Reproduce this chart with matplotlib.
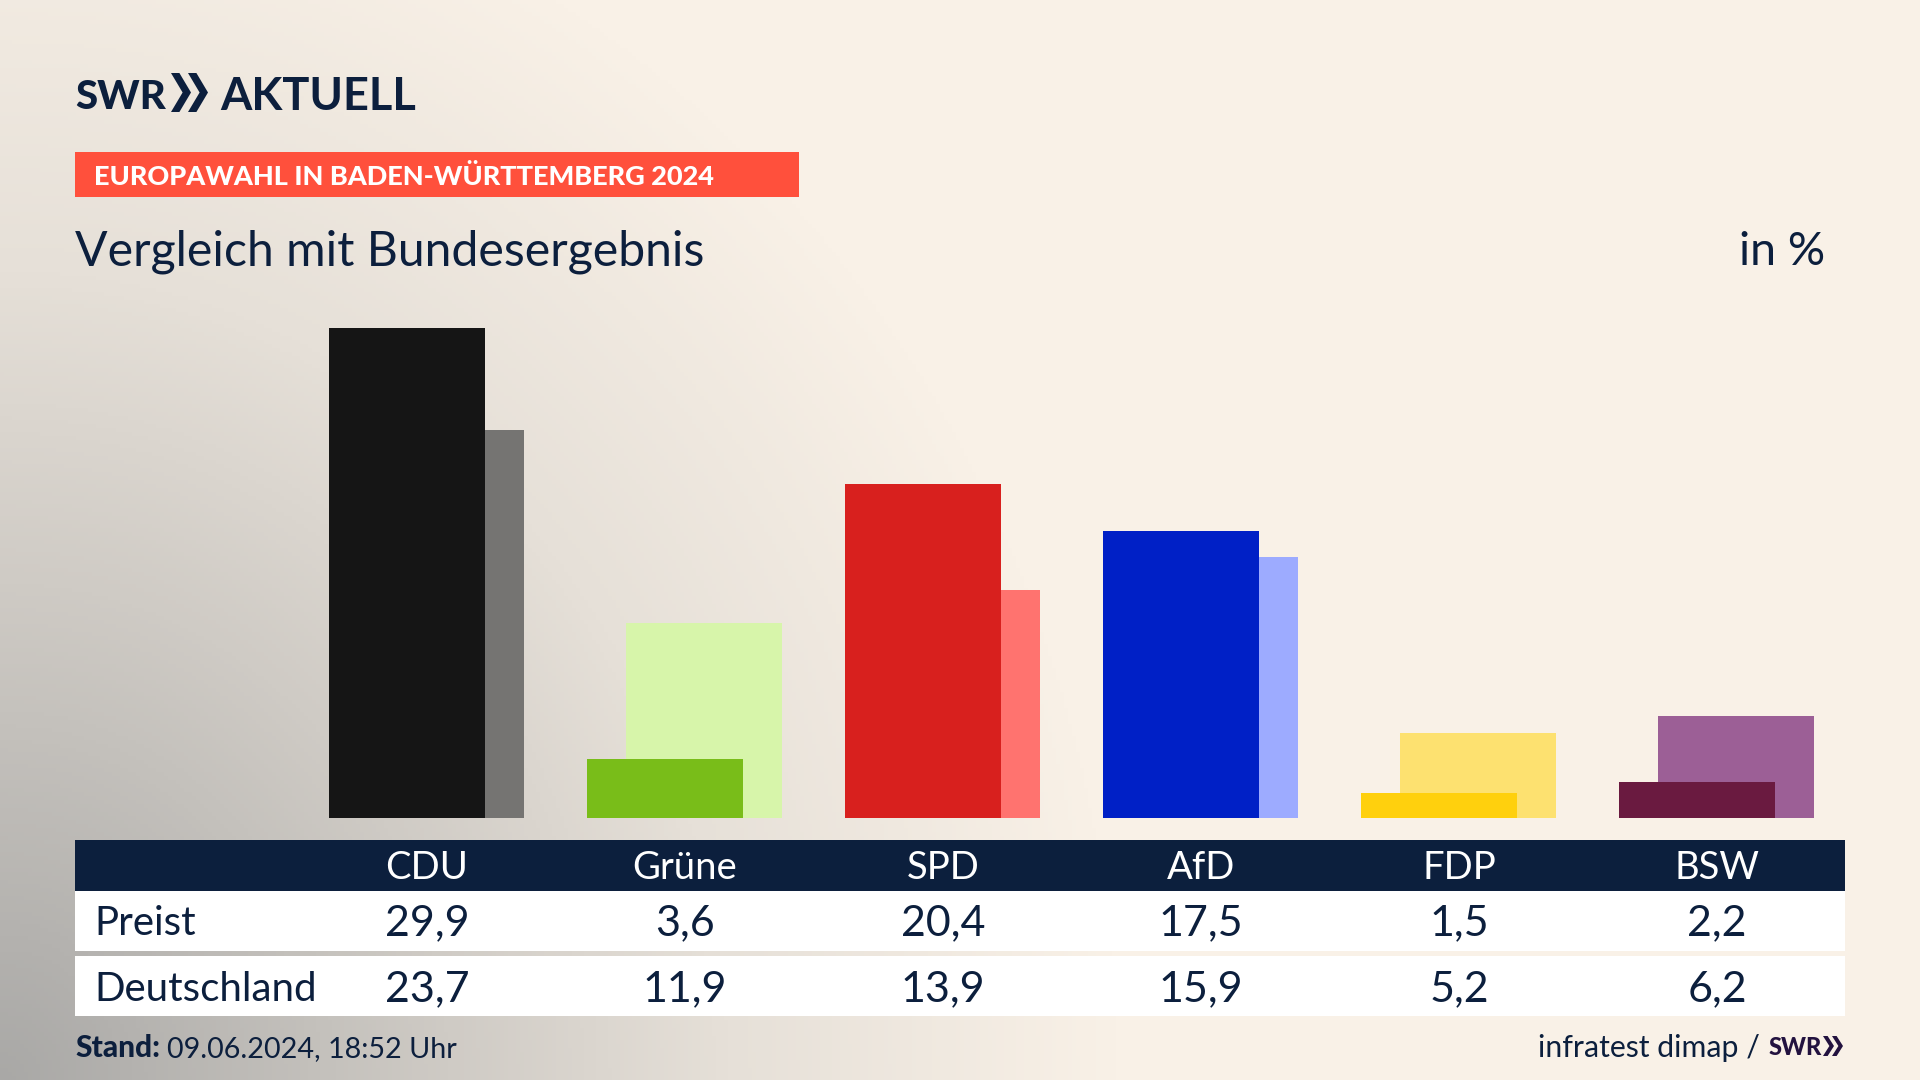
"""SWR Europawahl chart: Baden-Wuerttemberg compared with the federal result."""

import numpy as np
import matplotlib
matplotlib.use("Agg")
import matplotlib.pyplot as plt
from matplotlib.colors import LinearSegmentedColormap
from matplotlib.patches import Polygon, Rectangle

parties = ["CDU", "Grüne", "SPD", "AfD", "FDP", "BSW"]
preist = [29.9, 3.6, 20.4, 17.5, 1.5, 2.2]
deutschland = [23.7, 11.9, 13.9, 15.9, 5.2, 6.2]
front_colors = ["#151515", "#79BD19", "#D8201E", "#0020C6", "#FFD00D", "#6A1A40"]
back_colors = ["#757472", "#D7F5AA", "#FF736F", "#9DABFF", "#FDE170", "#9C5F96"]
row_labels = ["Preist", "Deutschland"]

NAVY = "#0C1F3D"
plt.rcParams["font.family"] = ["Lato", "DejaVu Sans"]

W, H = 1920, 1080
fig = plt.figure(figsize=(W / 100, H / 100), dpi=100)

# page layer in pixel coordinates
page = fig.add_axes([0, 0, 1, 1])
page.axis("off")

# background glow from the lower left corner
yy, xx = np.mgrid[0:H:4, 0:W:4]
dist = np.clip(np.sqrt((xx / 1120) ** 2 + ((H - yy) / 1250) ** 2), 0, 1)
cmap = LinearSegmentedColormap.from_list(
    "bg", [(0, "#A9A8A6"), (0.4, "#CFCBC5"), (0.65, "#E6E0D8"), (1, "#F9F1E7")], N=256)
page.imshow(dist, cmap=cmap, extent=(0, W, H, 0), aspect="auto", vmin=0, vmax=1, zorder=0)
page.set_xlim(0, W)
page.set_ylim(H, 0)


def chevrons(x, y0, y1, w, gap, color):
    for k in range(2):
        left = x + k * gap
        thick = w * 0.42
        pts = [(left, y0), (left + thick, y0), (left + w, (y0 + y1) / 2),
               (left + thick, y1), (left, y1), (left + w - thick, (y0 + y1) / 2)]
        page.add_patch(Polygon(pts, closed=True, color=color, lw=0, zorder=3))


# logo
page.text(75, 109, "SWR", fontsize=29, fontweight="black", color=NAVY, va="baseline")
chevrons(171, 73, 112, 20, 17, NAVY)
page.text(220, 110, "AKTUELL", fontsize=32.5, fontweight="bold", color=NAVY, va="baseline")

# header
page.add_patch(Rectangle((75, 152), 724, 45, color="#FF503C", lw=0, zorder=1))
page.text(94, 185, "EUROPAWAHL IN BADEN-WÜRTTEMBERG 2024", fontsize=19.5, fontweight="black",
          color="white", va="baseline")
page.text(75, 265, "Vergleich mit Bundesergebnis", fontsize=34.7, color=NAVY, va="baseline")
page.text(1825, 265, "in %", fontsize=33.5, color=NAVY, va="baseline", ha="right")

# table
page.add_patch(Rectangle((75, 840), 1770, 51, color=NAVY, lw=0, zorder=1))
page.add_patch(Rectangle((75, 891), 1770, 60, color="white", lw=0, zorder=1))
page.add_patch(Rectangle((75, 956), 1770, 60, color="white", lw=0, zorder=1))
page.text(94, 935, row_labels[0], fontsize=29, color=NAVY, va="baseline")
page.text(94, 1001, row_labels[1], fontsize=29, color=NAVY, va="baseline")

for i, party in enumerate(parties):
    cx = 427 + 258 * i
    page.text(cx, 879, party, fontsize=27.5, color="white", ha="center", va="baseline")
    page.text(cx, 935, f"{preist[i]:.1f}".replace(".", ","), fontsize=31, color=NAVY,
              ha="center", va="baseline")
    page.text(cx, 1001, f"{deutschland[i]:.1f}".replace(".", ","), fontsize=31, color=NAVY,
              ha="center", va="baseline")

# footer
page.text(75, 1057, "Stand:", fontsize=21.5, fontweight="black", color=NAVY, va="baseline")
page.text(167, 1057, "09.06.2024, 18:52 Uhr", fontsize=20.7, color=NAVY, va="baseline")
page.text(1760, 1057, "infratest dimap /", fontsize=21.8, color=NAVY, va="baseline", ha="right")
page.text(1769, 1055, "SWR", fontsize=17, fontweight="black", color="#23123F", va="baseline")
chevrons(1823, 1036, 1056, 11, 9, "#23123F")

# bars
ax = fig.add_axes([298 / W, (H - 818) / H, 1548 / W, 16.39 * 30 / H])
ax.patch.set_alpha(0)
ax.set_xlim(-0.5, 5.5)
ax.set_ylim(0, 30)
ax.axis("off")
x = np.arange(len(parties))
ax.bar(x + 0.0738, deutschland, width=0.603, color=back_colors, zorder=2)
ax.bar(x - 0.0773, preist, width=0.603, color=front_colors, zorder=3)

fig.savefig("out.png", dpi=100)
